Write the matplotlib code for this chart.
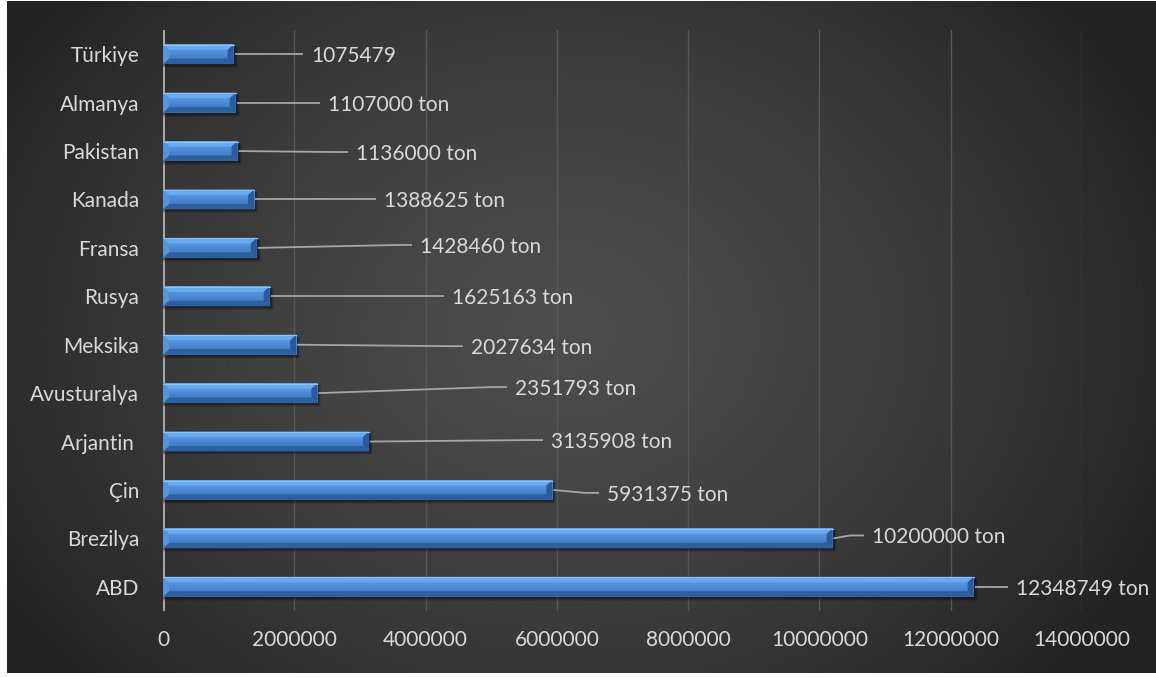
import numpy as np
import matplotlib
matplotlib.use("Agg")
import matplotlib.pyplot as plt
from matplotlib.patches import Rectangle, Polygon

# ---- data ----
countries = ["Türkiye", "Almanya", "Pakistan", "Kanada", "Fransa", "Rusya",
             "Meksika", "Avusturalya", "Arjantin ", "Çin", "Brezilya", "ABD"]
production = [1075479, 1107000, 1136000, 1388625, 1428460, 1625163,
              2027634, 2351793, 3135908, 5931375, 10200000, 12348749]
value_labels = ["1075479", "1107000 ton", "1136000 ton", "1388625 ton",
                "1428460 ton", "1625163 ton", "2027634 ton", "2351793 ton",
                "3135908 ton", "5931375 ton", "10200000 ton", "12348749 ton"]
x_ticks = [0, 2000000, 4000000, 6000000, 8000000, 10000000, 12000000, 14000000]

# ---- label placement (left edge in axis units, vertical shift in category units) ----
label_left = [2.255e6, 2.514e6, 2.940e6, 3.367e6, 3.915e6, 4.403e6,
              4.692e6, 5.362e6, 5.911e6, 6.764e6, 10.801e6, 12.995e6]
label_shift = [0.0, 0.0, 0.02, 0.0, -0.06, 0.0, 0.03, -0.126, -0.03, 0.06, -0.06, 0.0]

W, H = 1156, 677
FONT = "Lato"
TXT = "#d9d9d9"
FS = 15

fig = plt.figure(figsize=(W / 100, H / 100), dpi=100, facecolor="white")

# dark radial backdrop
bg = fig.add_axes([7 / W, 4 / H, (W - 7) / W, 672 / H], zorder=-10)
bw, bh = W - 7, 672
yy, xx = np.mgrid[0:bh, 0:bw]
cx, cy = 553, 329
r = np.sqrt(((xx - cx) / 650.0) ** 2 + ((yy - cy) / 520.0) ** 2)
r = np.clip(r, 0, 1) ** 1.5
val = (76 - (76 - 35) * r) / 255.0
img = np.dstack([val, val, val])
bg.imshow(img, aspect="auto", interpolation="bilinear", extent=(0, 1, 0, 1))
bg.set_axis_off()

ax = fig.add_axes([163 / W, 1 - 611 / H, 919 / W, 581 / H])
ax.set_facecolor("none")
xmax = 14e6
ax.set_xlim(0, xmax)
ax.set_ylim(len(countries) - 0.5, -0.5)

px_x = xmax / 919.0
px_y = len(countries) / 581.0

for s in ax.spines.values():
    s.set_visible(False)
ax.set_xticks(x_ticks)
ax.set_xticklabels([str(t) for t in x_ticks], color=TXT, fontsize=FS, family=FONT)
ax.set_yticks(range(len(countries)))
ax.set_yticklabels(countries, color=TXT, fontsize=FS, family=FONT)
ax.tick_params(axis="both", length=0)
ax.tick_params(axis="y", pad=17)
ax.tick_params(axis="x", pad=14)
ax.xaxis.grid(True, color="#575757", lw=1.0)
ax.set_axisbelow(True)
ax.axvline(0, color="#a6a6a6", lw=2.2, zorder=1.5)

bar_h = 0.41
grad = np.array([[0.36, 0.61, 0.89],
                 [0.30, 0.54, 0.84],
                 [0.24, 0.47, 0.77]])[:, None, :]

for i, v in enumerate(production):
    top, bot = i - bar_h / 2, i + bar_h / 2
    bx, by = 6 * px_x, 5.5 * px_y
    # soft drop shadow
    for k, a in [(4, 0.10), (3, 0.15), (2, 0.22)]:
        ax.add_patch(Rectangle((0, top + 2 * px_y), v + k * px_x, bar_h + k * px_y - 2 * px_y,
                               color="black", alpha=a, lw=0, zorder=2))
    face = Rectangle((0, top), v, bar_h, lw=0, facecolor="none", zorder=3)
    ax.add_patch(face)
    im = ax.imshow(grad, extent=(0, v, bot, top), aspect="auto",
                   interpolation="bicubic", zorder=3)
    im.set_clip_path(face)
    # bevel facets
    ax.add_patch(Polygon([(0, top), (v, top), (v - bx, top + by), (bx, top + by)],
                         closed=True, color="#6aa9ef", lw=0, zorder=4))
    ax.add_patch(Polygon([(0, bot), (v, bot), (v - bx, bot - by), (bx, bot - by)],
                         closed=True, color="#2e5f9e", lw=0, zorder=4))
    ax.add_patch(Polygon([(0, top), (bx, top + by), (bx, bot - by), (0, bot)],
                         closed=True, color="#5595e0", lw=0, zorder=4))
    ax.add_patch(Polygon([(v, top), (v - bx, top + by), (v - bx, bot - by), (v, bot)],
                         closed=True, color="#2c5a96", lw=0, zorder=4))
    ax.plot([0, v], [top + 0.5 * px_y, top + 0.5 * px_y], color="#8cc3f7", lw=0.8, zorder=4.5)

    # leader line and value label
    lx, ly = label_left[i], i + label_shift[i]
    end = lx - 8 * px_x
    knee = end - 14 * px_x
    xs, ys = [v + px_x], [i]
    if knee > v + px_x:
        xs.append(knee)
        ys.append(ly)
    xs.append(end)
    ys.append(ly)
    ax.plot(xs, ys, color="#a6a6a6", lw=1.3, zorder=2.5, solid_capstyle="butt")
    ax.text(lx, ly + 2 * px_y, value_labels[i], ha="left", va="center", color=TXT,
            fontsize=FS, family=FONT, zorder=5)

fig.savefig("out.png", dpi=100, facecolor="white")
